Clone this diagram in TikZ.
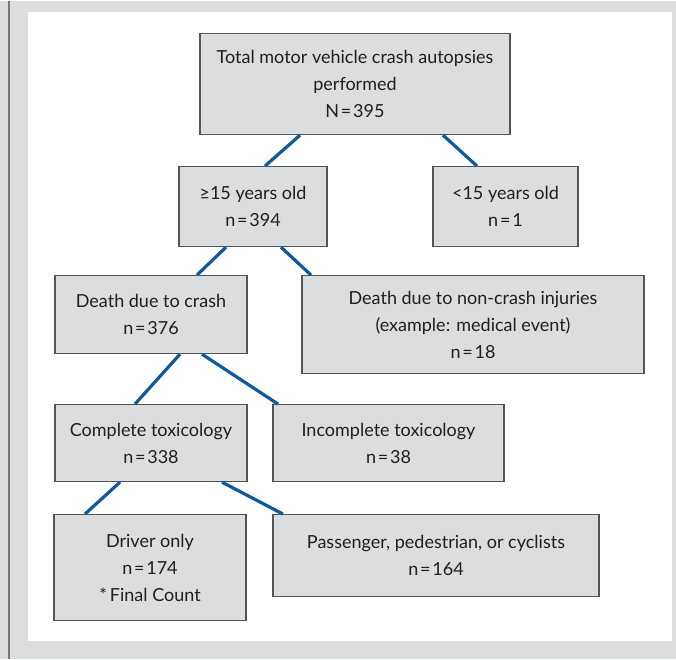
\documentclass[tikz,border=0pt]{standalone}
\usepackage{fontspec}
\setmainfont{Lato}
\definecolor{panelgray}{HTML}{DCDDDF}
\definecolor{boxgray}{HTML}{DCDDDF}
\definecolor{edgegray}{HTML}{555555}
\definecolor{linkblue}{HTML}{0E5A9C}
\newcommand{\eqn}[2]{#1\kern1.8pt=\kern1.8pt#2}

\begin{document}
\begin{tikzpicture}[x=1pt, y=-1pt,
    box/.style={draw=edgegray, fill=boxgray, line width=1.1pt, inner sep=0pt,
                align=center, font=\fontsize{18}{27}\selectfont, text=black!88},
    link/.style={draw=linkblue, line width=3.2pt}]
    % frame
    \fill[panelgray] (0,0) rectangle (676,658);
    \fill[white] (28,11) rectangle (672,640);
    \draw[edgegray!80, line width=1.2pt] (9,0) -- (9,658);
    \path[use as bounding box] (0,0) rectangle (676,658);

    \node (T) at (355, 83.5) [box, minimum width=310pt, minimum height=101pt]
        {Total motor vehicle crash autopsies\\performed\\\eqn{N}{395}};

    %-----

    \node (A) at (253, 206) [box, minimum width=148pt, minimum height=80pt] {≥15 years old\\\eqn{n}{394}};
    \node (B) at (505.5, 206) [box, minimum width=145pt, minimum height=80pt] {<15 years old\\\eqn{n}{1}};

    \draw[link] ([xshift=-55pt]T.south) -- ([xshift=12pt]A.north);
    \draw[link] ([xshift=88pt]T.south) -- ([xshift=-28.5pt]B.north);

    %-----

    \node (C) at (151, 314) [box, minimum width=192pt, minimum height=78pt] {Death due to crash\\\eqn{n}{376}};
    \node (D) at (473, 324) [box, minimum width=342pt, minimum height=98pt]
        {Death due to non-crash injuries\\(example: medical event)\\\eqn{n}{18}};

    \draw[link] ([xshift=-27pt]A.south) -- ([xshift=46pt]C.north);
    \draw[link] ([xshift=28pt]A.south) -- ([xshift=-162pt]D.north);

    %-----

    \node (E) at (151, 442.5) [box, minimum width=192pt, minimum height=77pt] {Complete toxicology\\\eqn{n}{338}};
    \node (F) at (388.5, 442.5) [box, minimum width=231pt, minimum height=77pt] {Incomplete toxicology\\\eqn{n}{38}};

    \draw[link] ([xshift=29pt]C.south) -- ([xshift=-16pt]E.north);
    \draw[link] ([xshift=51pt]C.south) -- ([xshift=-110.5pt]F.north);

    %-----

    \node (G) at (150, 567) [box, minimum width=192pt, minimum height=106pt] {Driver only\\\eqn{n}{174}\\*\kern3pt Final Count};
    \node (H) at (436, 555) [box, minimum width=326pt, minimum height=82pt] {Passenger, pedestrian, or cyclists\\\eqn{n}{164}};

    \draw[link] ([xshift=-31pt]E.south) -- ([xshift=-65pt]G.north);
    \draw[link] ([xshift=71pt]E.south) -- ([xshift=-153pt]H.north);
\end{tikzpicture}
\end{document}
